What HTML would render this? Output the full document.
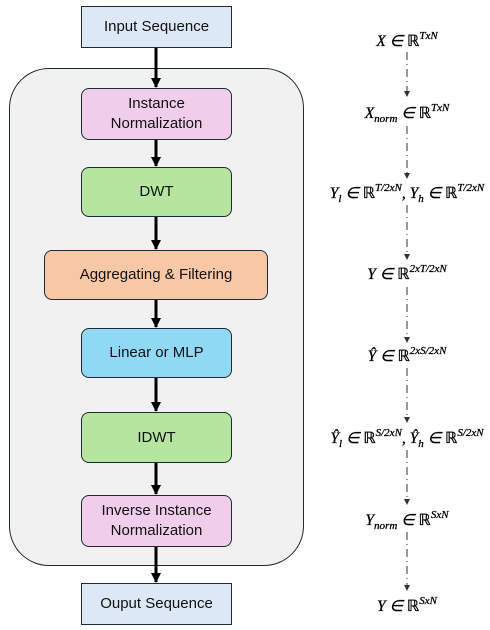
<!DOCTYPE html>
<html><head><meta charset="utf-8"><style>
body{margin:0;width:490px;height:630px;background:#fff;position:relative;font-family:"Liberation Sans",sans-serif;overflow:hidden}
.box{position:absolute;box-sizing:border-box;border:1.6px solid #1e2a36;display:flex;align-items:center;justify-content:center;text-align:center;font-size:15px;color:#111;line-height:20px}
.r{border-radius:8px}
.eq{position:absolute;font-family:"Liberation Serif",serif;font-style:italic;font-size:15.5px;color:#000;white-space:nowrap;transform:translateX(-50%);-webkit-text-stroke:0.3px #000}
.eq sup{font-size:11px;vertical-align:7px}
.eq sub{font-size:11px}
.eq .R{font-style:normal}
</style></head><body>
<div style="position:absolute;left:9px;top:68px;width:295px;height:498px;box-sizing:border-box;border:1.6px solid #1e2a36;border-radius:40px;background:#f1f1f1"></div>
<div class="box" style="left:81px;top:6px;width:151px;height:42px;background:#dce8f5">Input Sequence</div>
<div class="box r" style="left:81px;top:88px;width:151px;height:52px;background:#f1cdec">Instance<br>Normalization</div>
<div class="box r" style="left:81px;top:167px;width:151px;height:50px;background:#b6e59f">DWT</div>
<div class="box r" style="left:44px;top:250px;width:224px;height:50px;background:#f8c7a5">Aggregating &amp; Filtering</div>
<div class="box r" style="left:81px;top:328px;width:151px;height:50px;background:#90d9f5">Linear or MLP</div>
<div class="box r" style="left:81px;top:412px;width:151px;height:51px;background:#b6e59f">IDWT</div>
<div class="box r" style="left:81px;top:495px;width:151px;height:52px;background:#f1cdec">Inverse Instance<br>Normalization</div>
<div class="box" style="left:81px;top:583px;width:151px;height:42px;background:#dce8f5">Ouput Sequence</div>
<svg width="490" height="630" style="position:absolute;left:0;top:0">
<defs><marker id="a" markerWidth="10" markerHeight="10" refX="9" refY="5" orient="auto" markerUnits="userSpaceOnUse"><path d="M0,0 L10,5 L0,10 Z" fill="#000"/></marker>
<marker id="s" markerWidth="6" markerHeight="6" refX="5" refY="3" orient="auto" markerUnits="userSpaceOnUse"><path d="M0,0 L6,3 L0,6 Z" fill="#333"/></marker></defs>
<g stroke="#000" stroke-width="3" marker-end="url(#a)">
<line x1="156" y1="48" x2="156" y2="87"/><line x1="156" y1="140" x2="156" y2="166"/>
<line x1="156" y1="217" x2="156" y2="249"/><line x1="156" y1="300" x2="156" y2="327"/>
<line x1="156" y1="378" x2="156" y2="411"/><line x1="156" y1="463" x2="156" y2="494"/>
<line x1="156" y1="547" x2="156" y2="582"/></g>
<g stroke="#333" stroke-width="1" stroke-dasharray="8,4,1,4" marker-end="url(#s)">
<line x1="407" y1="52" x2="407" y2="96"/><line x1="407" y1="126" x2="407" y2="178"/>
<line x1="407" y1="205" x2="407" y2="259"/><line x1="407" y1="287" x2="407" y2="342"/>
<line x1="407" y1="368" x2="407" y2="422"/><line x1="407" y1="450" x2="407" y2="504"/>
<line x1="407" y1="532" x2="407" y2="590"/></g>
</svg>
<div class="eq" style="left:407px;top:30px">X ∈ <span class="R">ℝ</span><sup>TxN</sup></div>
<div class="eq" style="left:407px;top:102px">X<sub>norm</sub> ∈ <span class="R">ℝ</span><sup>TxN</sup></div>
<div class="eq" style="left:407px;top:182px">Y<sub>l</sub> ∈ <span class="R">ℝ</span><sup>T/2xN</sup>, Y<sub>h</sub> ∈ <span class="R">ℝ</span><sup>T/2xN</sup></div>
<div class="eq" style="left:407px;top:263px">Y ∈ <span class="R">ℝ</span><sup>2xT/2xN</sup></div>
<div class="eq" style="left:407px;top:345px">Ŷ ∈ <span class="R">ℝ</span><sup>2xS/2xN</sup></div>
<div class="eq" style="left:407px;top:427px">Ŷ<sub>l</sub> ∈ <span class="R">ℝ</span><sup>S/2xN</sup>, Ŷ<sub>h</sub> ∈ <span class="R">ℝ</span><sup>S/2xN</sup></div>
<div class="eq" style="left:407px;top:509px">Y<sub>norm</sub> ∈ <span class="R">ℝ</span><sup>SxN</sup></div>
<div class="eq" style="left:407px;top:595px">Y ∈ <span class="R">ℝ</span><sup>SxN</sup></div>
</body></html>
